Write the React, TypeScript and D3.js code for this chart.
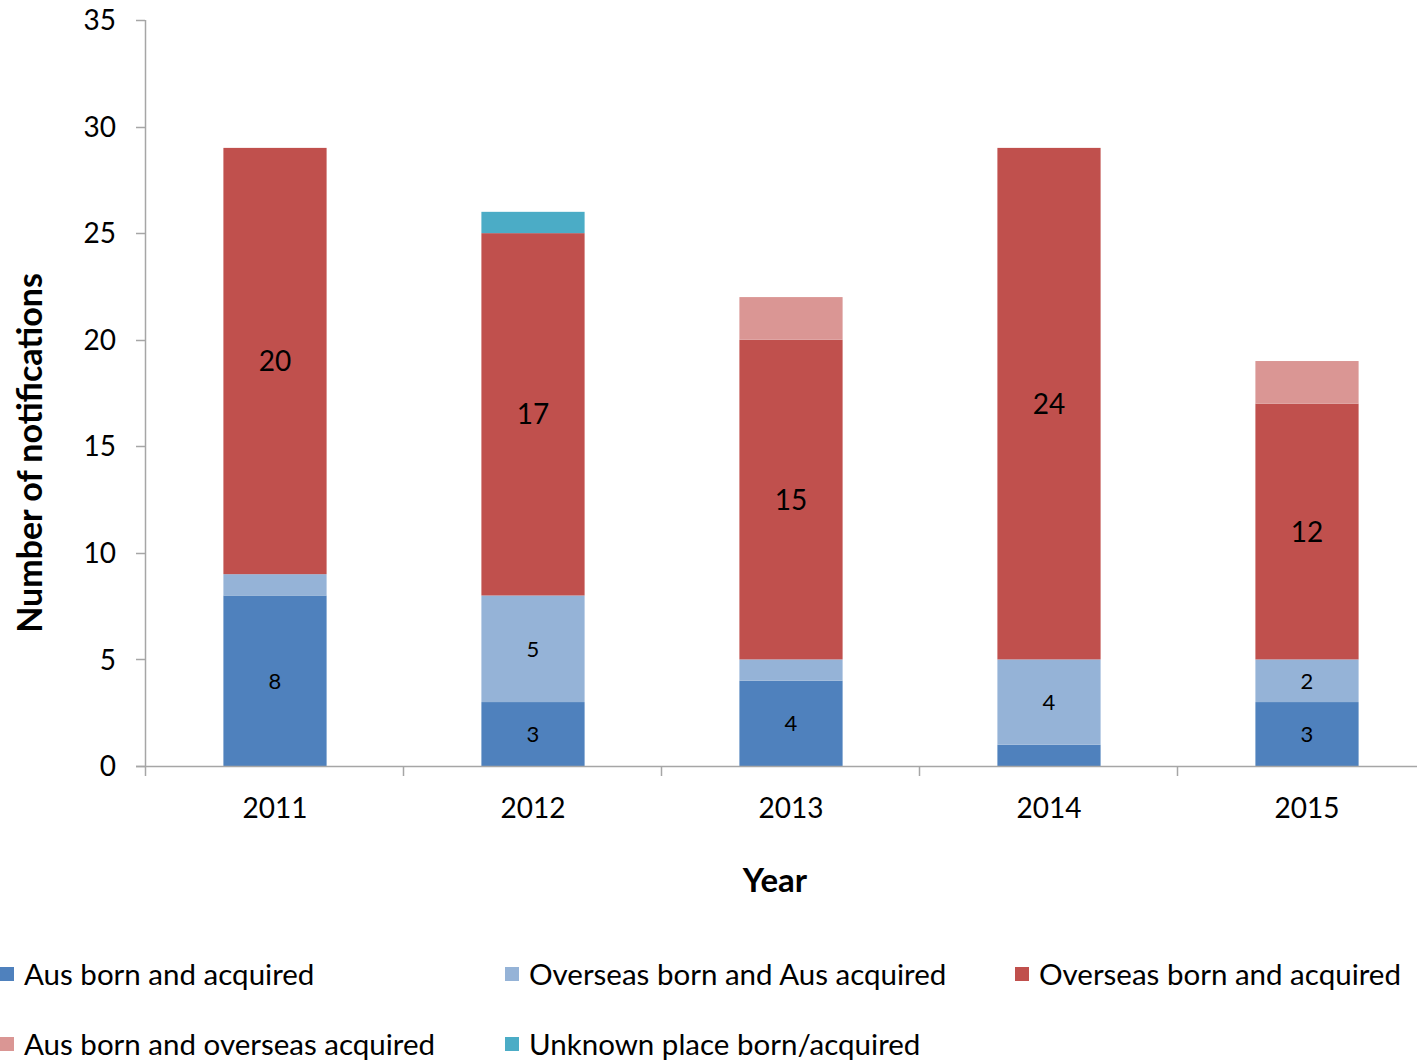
import React from 'react';
import * as d3 from 'd3';

// Notifications by place of birth / acquisition
const years = ['2011', '2012', '2013', '2014', '2015'];
const seriesNames = [
  'Aus born and acquired',
  'Overseas born and Aus acquired',
  'Overseas born and acquired',
  'Aus born and overseas acquired',
  'Unknown place born/acquired',
];
const ausBornAcquired = [8, 3, 4, 1, 3];
const overseasBornAusAcquired = [1, 5, 1, 4, 2];
const overseasBornAcquired = [20, 17, 15, 24, 12];
const ausBornOverseasAcquired = [0, 0, 2, 0, 2];
const unknownPlace = [0, 1, 0, 0, 0];
const yTicks = [0, 5, 10, 15, 20, 25, 30, 35];

const colors = ['#4f81bd', '#95b3d7', '#c0504d', '#da9694', '#4bacc6'];
// which series carry data labels (value 1 is left off in the original)
const labelled = [true, true, true, false, false];

const W = 1417;
const H = 1060;
const FONT = 'Lato, "Open Sans", sans-serif';

export default function App() {
  const values = [ausBornAcquired, overseasBornAusAcquired, overseasBornAcquired, ausBornOverseasAcquired, unknownPlace];
  const rows = years.map((y, i) => {
    const r: any = { year: y };
    seriesNames.forEach((s, k) => { r[s] = values[k][i]; });
    return r;
  });
  const stacked = d3.stack().keys(seriesNames)(rows);

  const x = d3.scaleBand().domain(years).range([146, 1436]).paddingInner(0.6).paddingOuter(0.3);
  const y = d3.scaleLinear().domain([0, 35]).range([766, 20]);
  const step = x.step();

  return (
    <div style={{ position: 'absolute', left: 0, top: 0, width: W, height: H, background: '#fff' }}>
      <svg width={W} height={H} style={{ display: 'block', fontFamily: FONT }}>
        <rect width={W} height={H} fill="#fff" />

        {/* bars */}
        {stacked.map((layer, k) => (
          <g key={k} fill={colors[k]}>
            {layer.map((d, i) => {
              const h = y(d[0]) - y(d[1]);
              if (h <= 0) return null;
              return (
                <rect key={i} x={x(years[i])} y={y(d[1])} width={x.bandwidth()} height={h} />
              );
            })}
          </g>
        ))}

        {/* data labels */}
        {stacked.map((layer, k) => labelled[k] && (
          <g key={'l' + k}>
            {layer.map((d, i) => {
              const v = d[1] - d[0];
              if (v <= 1) return null;
              return (
                <text key={i} x={(x(years[i]) as number) + x.bandwidth() / 2} y={y((d[0] + d[1]) / 2)}
                  dy="0.36em" textAnchor="middle" fontSize={k === 2 ? 28 : 22} fill="#000">{v}</text>
              );
            })}
          </g>
        ))}

        {/* y axis */}
        <line x1={145.5} x2={145.5} y1={20} y2={766} stroke="#a6a6a6" strokeWidth={1.5} />
        {yTicks.map(t => (
          <g key={t}>
            <line x1={136} x2={145} y1={Math.round(y(t)) + 0.5} y2={Math.round(y(t)) + 0.5} stroke="#a6a6a6" strokeWidth={1.5} />
            <text x={116} y={y(t)} dy="0.36em" textAnchor="end" fontSize={28} fill="#000">{t}</text>
          </g>
        ))}

        {/* x axis */}
        <line x1={136} x2={W} y1={766.5} y2={766.5} stroke="#a6a6a6" strokeWidth={1.5} />
        {d3.range(years.length + 1).map(i => (
          <line key={i} x1={145.5 + i * step} x2={145.5 + i * step} y1={766} y2={776} stroke="#a6a6a6" strokeWidth={1.5} />
        ))}
        {years.map(yr => (
          <text key={yr} x={(x(yr) as number) + x.bandwidth() / 2} y={808} dy="0.36em" textAnchor="middle" fontSize={28} fill="#000">{yr}</text>
        ))}

        {/* axis titles */}
        <text x={775} y={880} dy="0.36em" textAnchor="middle" fontSize={33} fontWeight="bold" fill="#000">Year</text>
        <text transform="translate(30,453) rotate(-90)" dy="0.36em" textAnchor="middle" fontSize={34} fontWeight="bold" fill="#000">Number of notifications</text>

        {/* legend */}
        {seriesNames.map((s, k) => {
          const cols = [0, 505, 1015];
          const lx = cols[k % 3];
          const ly = 974 + Math.floor(k / 3) * 70;
          return (
            <g key={s}>
              <rect x={lx} y={ly - 7} width={14} height={14} fill={colors[k]} />
              <text x={lx + 24} y={ly} dy="0.36em" fontSize={29.5} fill="#000">{s}</text>
            </g>
          );
        })}
      </svg>
    </div>
  );
}
